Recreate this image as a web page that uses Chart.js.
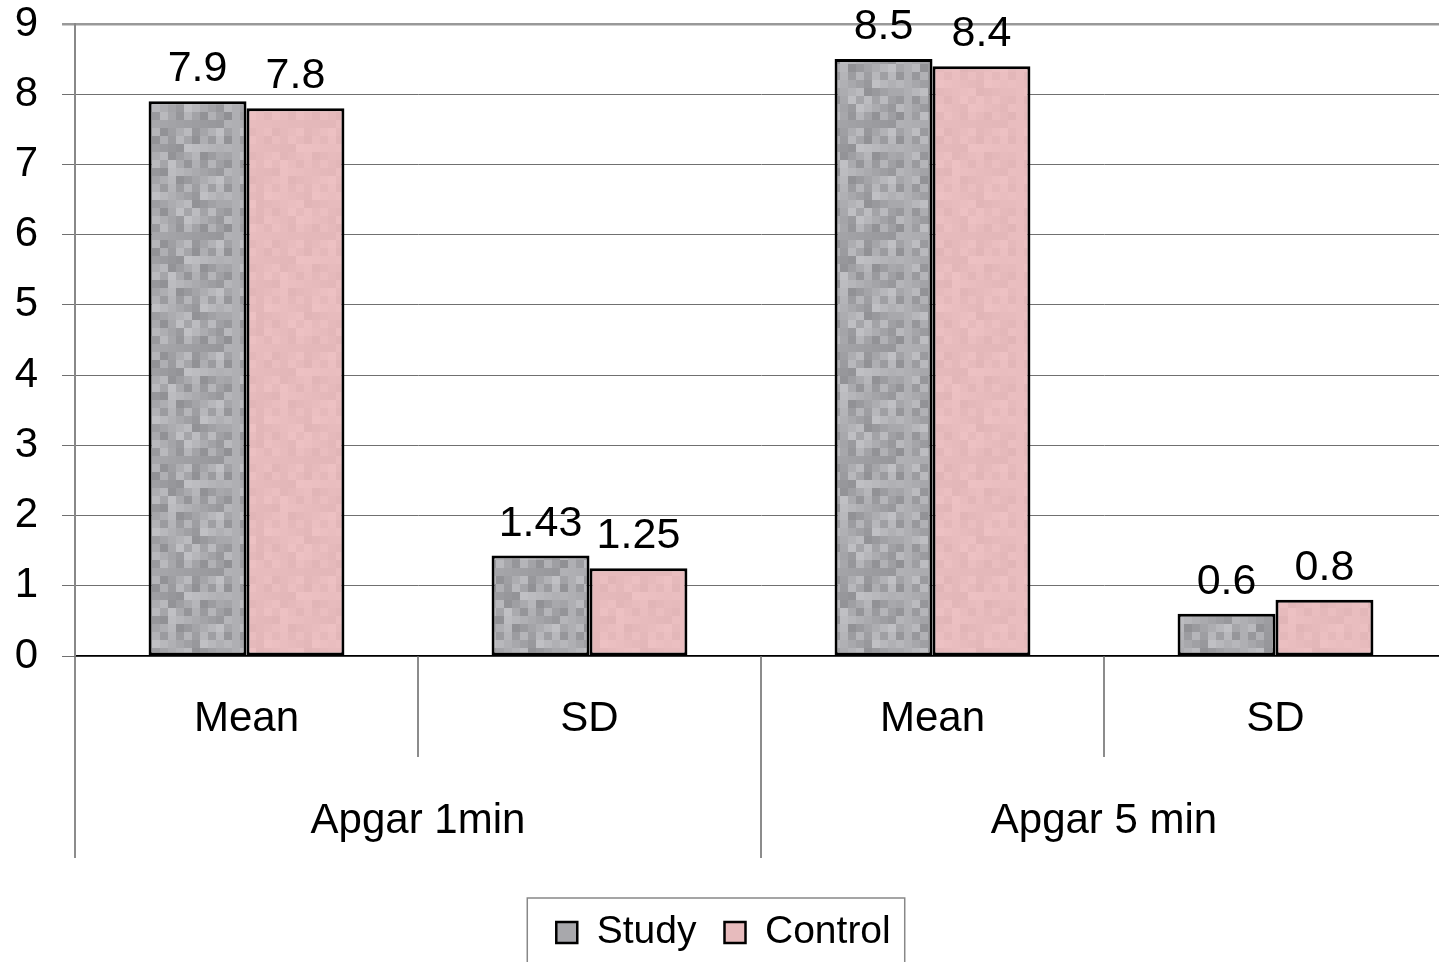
<!DOCTYPE html>
<html>
<head>
<meta charset="utf-8">
<script src="https://cdn.jsdelivr.net/npm/chart.js@4"></script>
<style>
  html, body { margin: 0; padding: 0; background: #fff; overflow: hidden; }
  #wrap { width: 1447px; height: 962px; }
</style>
</head>
<body>
<div id="wrap"><canvas id="chart" width="1447" height="962"></canvas></div>
<script>
// ── Data ────────────────────────────────────────────────────────────
const categories = ['Mean', 'SD', 'Mean', 'SD'];
const groups     = ['Apgar 1min', 'Apgar 5 min'];
const study      = [7.9, 1.43, 8.5, 0.6];
const control    = [7.8, 1.25, 8.4, 0.8];
const yMax       = 9;

const FONT = '"Liberation Sans", Arial, sans-serif';

// ── Mosaic fills (style only) ───────────────────────────────────────
function mosaic(base, spread, cell) {
  const n = 14;
  const c = document.createElement('canvas');
  c.width = c.height = n * cell;
  const g = c.getContext('2d');
  for (let i = 0; i < n; i++) {
    for (let j = 0; j < n; j++) {
      const h = (((i * 7919 + j * 104729 + i * j * 31) % 97) / 96) * 2 - 1;
      const r = Math.round(base[0] + h * spread[0]);
      const gg = Math.round(base[1] + h * spread[1]);
      const b = Math.round(base[2] + h * spread[2]);
      g.fillStyle = `rgb(${r},${gg},${b})`;
      g.fillRect(i * cell, j * cell, cell, cell);
    }
  }
  return g.createPattern(c, 'repeat');
}

const ctx = document.getElementById('chart').getContext('2d');
const studyFill   = mosaic([168, 168, 172], [24, 24, 24], 8);
const controlFill = mosaic([231, 187, 189], [6, 6, 6], 8);

// ── Plugins ─────────────────────────────────────────────────────────
const valueLabels = {
  id: 'valueLabels',
  afterDraw(chart) {
    const c = chart.ctx;
    c.save();
    c.font = `43px ${FONT}`;
    c.fillStyle = '#000';
    c.textAlign = 'center';
    c.textBaseline = 'alphabetic';
    chart.data.datasets.forEach((ds, di) => {
      chart.getDatasetMeta(di).data.forEach((bar, i) => {
        c.fillText(String(ds.data[i]), bar.x, bar.y - 20);
      });
    });
    c.restore();
  }
};

const dividers = {
  id: 'dividers',
  afterDraw(chart) {
    const x = chart.scales.x, x2 = chart.scales.x2;
    const half = (x.getPixelForValue(1) - x.getPixelForValue(0)) / 2;
    const c = chart.ctx;
    c.save();
    c.strokeStyle = '#666';
    c.lineWidth = 1.5;
    for (let i = 0; i <= categories.length; i++) {
      const px = Math.min(x.getPixelForValue(i) - half, chart.width - 1);
      const end = i % 2 === 0 ? x2.top + x.height : x.bottom;
      c.beginPath();
      c.moveTo(px, x.top);
      c.lineTo(px, end);
      c.stroke();
    }
    // legend frame
    const hb = chart.legend.legendHitBoxes;
    if (hb && hb.length) {
      const first = hb[0], last = hb[hb.length - 1];
      const l = first.left - 29, r = last.left + last.width + 14, t = first.top - 15;
      c.strokeStyle = '#888';
      c.lineWidth = 1.5;
      c.strokeRect(l, t, r - l, chart.height - t + 10);
    }
    c.restore();
  }
};

// ── Chart ───────────────────────────────────────────────────────────
new Chart(ctx, {
  type: 'bar',
  data: {
    labels: categories,
    datasets: [
      { label: 'Study', data: study, backgroundColor: studyFill, borderColor: '#000', borderWidth: 3, borderSkipped: false },
      { label: 'Control', data: control, backgroundColor: controlFill, borderColor: '#000', borderWidth: 3, borderSkipped: false }
    ]
  },
  options: {
    responsive: false,
    devicePixelRatio: 1,
    animation: false,
    layout: { padding: { top: 0, bottom: 0, left: 0, right: 0 } },
    datasets: { bar: { barPercentage: 1, categoryPercentage: 0.571 } },
    plugins: {
      tooltip: { enabled: false },
      legend: {
        position: 'bottom',
        labels: {
          color: '#000',
          font: { family: FONT, size: 39 },
          boxWidth: 21,
          boxHeight: 21,
          padding: 28,
          generateLabels: chart => chart.data.datasets.map((ds, i) => ({
            text: ds.label,
            fillStyle: i === 0 ? '#a8a8ac' : '#e7bbbd',
            strokeStyle: '#000',
            lineWidth: 2.5,
            datasetIndex: i
          }))
        }
      }
    },
    scales: {
      x: {
        offset: true,
        grid: { display: false, drawTicks: false },
        border: { display: true, color: '#000', width: 1.5 },
        ticks: { color: '#000', font: { family: FONT, size: 42 }, padding: 38 },
        afterFit: s => { s.height = 101; }
      },
      x2: {
        type: 'category',
        labels: groups,
        position: 'bottom',
        offset: true,
        weight: 1,
        grid: { display: false, drawTicks: false },
        border: { display: false },
        ticks: { color: '#000', font: { family: FONT, size: 42 }, padding: 39 },
        afterFit: s => { s.height = 128; }
      },
      y: {
        min: 0,
        max: yMax,
        ticks: { stepSize: 1, color: '#000', font: { family: FONT, size: 42 }, padding: 24 },
        grid: {
          color: c => c.tick && c.tick.value === yMax ? '#999' : '#707070',
          lineWidth: c => c.tick && c.tick.value === yMax ? 2.5 : 1,
          tickLength: 13
        },
        border: { color: '#888', width: 2 },
        afterFit: s => { s.width = 75; s.paddingTop = 24; s.paddingBottom = 0; }
      }
    }
  },
  plugins: [valueLabels, dividers]
});
</script>
</body>
</html>
